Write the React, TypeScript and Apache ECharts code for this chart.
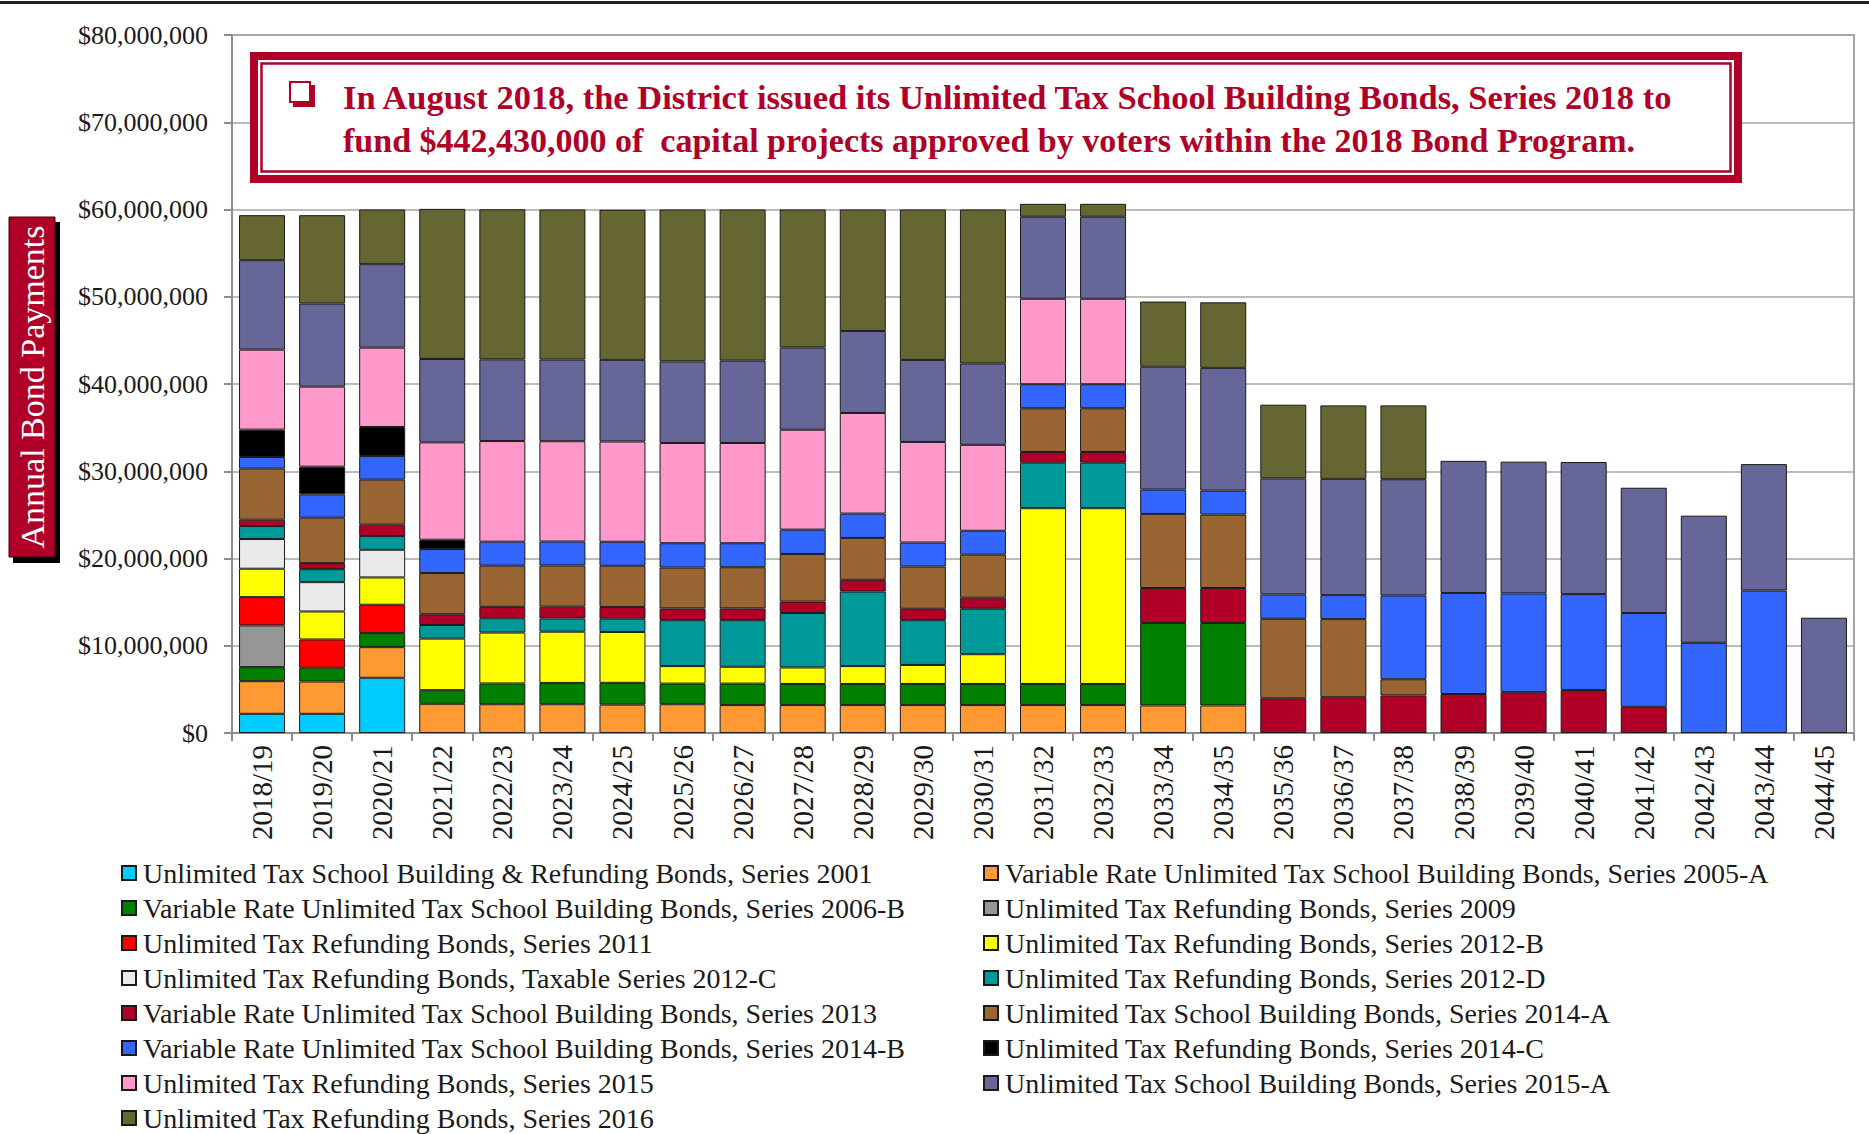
import React, { useEffect, useRef } from 'react';
import * as echarts from 'echarts';

const categories = [
  '2018/19', '2019/20', '2020/21', '2021/22', '2022/23', '2023/24', '2024/25', '2025/26', '2026/27',
  '2027/28', '2028/29', '2029/30', '2030/31', '2031/32', '2032/33', '2033/34', '2034/35', '2035/36',
  '2036/37', '2037/38', '2038/39', '2039/40', '2040/41', '2041/42', '2042/43', '2043/44', '2044/45',
];

const yTicks = [0, 10, 20, 30, 40, 50, 60, 70, 80]; // millions of dollars

const seriesNames = [
  'Unlimited Tax School Building & Refunding Bonds, Series 2001',
  'Variable Rate Unlimited Tax School Building Bonds, Series 2005-A',
  'Variable Rate Unlimited Tax School Building Bonds, Series 2006-B',
  'Unlimited Tax Refunding Bonds, Series 2009',
  'Unlimited Tax Refunding Bonds, Series 2011',
  'Unlimited Tax Refunding Bonds, Series 2012-B',
  'Unlimited Tax Refunding Bonds, Taxable Series 2012-C',
  'Unlimited Tax Refunding Bonds, Series 2012-D',
  'Variable Rate Unlimited Tax School Building Bonds, Series 2013',
  'Unlimited Tax School Building Bonds, Series 2014-A',
  'Variable Rate Unlimited Tax School Building Bonds, Series 2014-B',
  'Unlimited Tax Refunding Bonds, Series 2014-C',
  'Unlimited Tax Refunding Bonds, Series 2015',
  'Unlimited Tax School Building Bonds, Series 2015-A',
  'Unlimited Tax Refunding Bonds, Series 2016',
];

const seriesColors = [
  '#00CCFF', '#FF9933', '#008000', '#969696', '#FF0000', '#FFFF00', '#EAEAEA', '#009999',
  '#B00028', '#996633', '#3366FF', '#000000', '#FF99CC', '#666699', '#666633',
];

// values in millions of dollars, one per fiscal year
const s2001 = [2.2, 2.2, 6.33, 0, 0, 0, 0, 0, 0, 0, 0, 0, 0, 0, 0, 0, 0, 0, 0, 0, 0, 0, 0, 0, 0, 0, 0];
const s2005A = [3.74, 3.7, 3.51, 3.35, 3.3, 3.3, 3.25, 3.3, 3.2, 3.2, 3.2, 3.2, 3.2, 3.2, 3.2, 3.16, 3.16, 0, 0, 0, 0, 0, 0, 0, 0, 0, 0];
const s2006B = [1.61, 1.58, 1.61, 1.56, 2.38, 2.44, 2.5, 2.36, 2.46, 2.42, 2.42, 2.42, 2.42, 2.42, 2.42, 9.44, 9.44, 0, 0, 0, 0, 0, 0, 0, 0, 0, 0];
const s2009 = [4.78, 0, 0, 0, 0, 0, 0, 0, 0, 0, 0, 0, 0, 0, 0, 0, 0, 0, 0, 0, 0, 0, 0, 0, 0, 0, 0];
const s2011 = [3.24, 3.24, 3.25, 0, 0, 0, 0, 0, 0, 0, 0, 0, 0, 0, 0, 0, 0, 0, 0, 0, 0, 0, 0, 0, 0, 0, 0];
const s2012B = [3.26, 3.21, 3.13, 5.91, 5.83, 5.87, 5.83, 2.01, 1.93, 1.89, 2.05, 2.18, 3.41, 20.15, 20.15, 0, 0, 0, 0, 0, 0, 0, 0, 0, 0, 0, 0];
const s2012C = [3.4, 3.36, 3.17, 0, 0, 0, 0, 0, 0, 0, 0, 0, 0, 0, 0, 0, 0, 0, 0, 0, 0, 0, 0, 0, 0, 0, 0];
const s2012D = [1.49, 1.49, 1.57, 1.56, 1.64, 1.52, 1.52, 5.26, 5.34, 6.24, 8.54, 5.13, 5.21, 5.21, 5.21, 0, 0, 0, 0, 0, 0, 0, 0, 0, 0, 0, 0];
const s2013 = [0.73, 0.69, 1.31, 1.23, 1.31, 1.35, 1.35, 1.35, 1.35, 1.31, 1.35, 1.31, 1.27, 1.23, 1.23, 4.02, 4.02, 3.98, 4.1, 4.31, 4.47, 4.68, 4.92, 3.0, 0, 0, 0];
const s2014A = [5.85, 5.21, 5.16, 4.72, 4.72, 4.72, 4.72, 4.68, 4.72, 5.46, 4.8, 4.84, 4.93, 5.01, 5.01, 8.49, 8.41, 9.11, 8.95, 1.85, 0, 0, 0, 0, 0, 0, 0];
const s2014B = [1.33, 2.67, 2.7, 2.75, 2.75, 2.75, 2.75, 2.79, 2.75, 2.79, 2.79, 2.75, 2.74, 2.75, 2.75, 2.79, 2.75, 2.79, 2.75, 9.6, 11.57, 11.32, 11.0, 10.75, 10.34, 16.33, 0];
const s2014C = [3.14, 3.18, 3.33, 1.07, 0, 0, 0, 0, 0, 0, 0, 0, 0, 0, 0, 0, 0, 0, 0, 0, 0, 0, 0, 0, 0, 0, 0];
const s2015 = [9.17, 9.17, 9.1, 11.16, 11.53, 11.49, 11.49, 11.49, 11.49, 11.45, 11.53, 11.53, 9.85, 9.8, 9.8, 0, 0, 0, 0, 0, 0, 0, 0, 0, 0, 0, 0];
const s2015A = [10.25, 9.52, 9.56, 9.56, 9.36, 9.36, 9.36, 9.35, 9.44, 9.43, 9.4, 9.4, 9.32, 9.4, 9.4, 14.08, 14.07, 13.3, 13.33, 13.33, 15.15, 15.1, 15.14, 14.36, 14.57, 14.49, 13.21];
const s2016 = [5.16, 10.13, 6.27, 17.2, 17.2, 17.2, 17.2, 17.41, 17.32, 15.81, 13.92, 17.24, 17.65, 1.48, 1.48, 7.47, 7.51, 8.45, 8.42, 8.46, 0, 0, 0, 0, 0, 0, 0];

const seriesValues = [s2001, s2005A, s2006B, s2009, s2011, s2012B, s2012C, s2012D, s2013, s2014A, s2014B, s2014C, s2015, s2015A, s2016];

const leftLegend = seriesNames.filter((_, i) => i % 2 === 0);
const rightLegend = seriesNames.filter((_, i) => i % 2 === 1);

const noteLine1 = 'In August 2018, the District issued its Unlimited Tax School Building Bonds, Series 2018 to';
const noteLine2 = 'fund $442,430,000 of  capital projects approved by voters within the 2018 Bond Program.';
const yTitle = 'Annual Bond Payments';

const SERIF = '"Liberation Serif", "Times New Roman", serif';
const CRIMSON = '#B00028';

export default function App() {
  const ref = useRef<HTMLDivElement>(null);
  useEffect(() => {
    const chart = echarts.init(ref.current!, null, { renderer: 'svg' });
    const fmt = (v: number) => '$' + Math.round(v * 1e6).toLocaleString('en-US');
    const legendText = { fontSize: 28, fontFamily: SERIF, color: '#1a1a1a', padding: [0, 0, 0, 2] };
    chart.setOption({
      animation: false,
      backgroundColor: '#ffffff',
      grid: {
        left: 232, right: 15, top: 35, bottom: 401,
        show: true, borderColor: '#A6A6A6', borderWidth: 2, backgroundColor: 'transparent',
      },
      xAxis: {
        type: 'category',
        data: categories,
        boundaryGap: true,
        axisLine: { show: true, lineStyle: { color: '#8C8C8C', width: 2 } },
        axisTick: { show: true, alignWithLabel: false, length: 8, lineStyle: { color: '#8C8C8C', width: 2 } },
        axisLabel: { rotate: 90, fontSize: 29, margin: 12, color: '#1a1a1a', fontFamily: SERIF, interval: 0 },
      },
      yAxis: {
        type: 'value',
        min: yTicks[0],
        max: yTicks[yTicks.length - 1],
        interval: yTicks[1] - yTicks[0],
        axisLine: { show: true, lineStyle: { color: '#8C8C8C', width: 2 } },
        axisTick: { show: true, length: 8, lineStyle: { color: '#8C8C8C', width: 2 } },
        splitLine: { show: true, lineStyle: { color: '#A6A6A6', width: 1.5 } },
        axisLabel: { fontSize: 26, margin: 24, color: '#1a1a1a', fontFamily: SERIF, formatter: fmt },
      },
      legend: [
        {
          data: leftLegend, orient: 'vertical', left: 121, top: 859, width: 800, height: 400, padding: 0,
          itemWidth: 14, itemHeight: 14, itemGap: 7, icon: 'rect', selectedMode: false,
          textStyle: legendText,
        },
        {
          data: rightLegend, orient: 'vertical', left: 983, top: 859, width: 800, height: 400, padding: 0,
          itemWidth: 14, itemHeight: 14, itemGap: 7, icon: 'rect', selectedMode: false,
          textStyle: legendText,
        },
      ],
      series: seriesNames.map((name, i) => ({
        name,
        type: 'bar',
        stack: 'total',
        barWidth: 46,
        itemStyle: { color: seriesColors[i], borderColor: '#1a1a1a', borderWidth: 1 },
        data: seriesValues[i].map((v) => (v === 0 ? '-' : v)),
      })),
      graphic: [
        { type: 'rect', left: 0, top: 1, shape: { width: 1869, height: 3 }, style: { fill: '#222' } },
        // annotation box
        { type: 'rect', shape: { x: 254, y: 56, width: 1484, height: 123 }, style: { fill: '#fff', stroke: CRIMSON, lineWidth: 8 }, z: 100 },
        { type: 'rect', shape: { x: 261.5, y: 63.5, width: 1469, height: 108 }, style: { fill: 'none', stroke: CRIMSON, lineWidth: 2.5 }, z: 101 },
        { type: 'rect', shape: { x: 293, y: 85, width: 22, height: 22 }, style: { fill: CRIMSON }, z: 101 },
        { type: 'rect', shape: { x: 290, y: 82, width: 20, height: 20 }, style: { fill: '#fff', stroke: CRIMSON, lineWidth: 2 }, z: 102 },
        { type: 'text', x: 343, y: 97, style: { text: noteLine1, fill: CRIMSON, font: `bold 34.5px ${SERIF}`, textAlign: 'left', textVerticalAlign: 'middle' }, z: 102 },
        { type: 'text', x: 343, y: 140, style: { text: noteLine2, fill: CRIMSON, font: `bold 34px ${SERIF}`, textAlign: 'left', textVerticalAlign: 'middle' }, z: 102 },
        // y-axis title box
        { type: 'rect', shape: { x: 13, y: 222, width: 47, height: 341 }, style: { fill: '#000' }, z: 100 },
        { type: 'rect', shape: { x: 9, y: 217, width: 46, height: 340 }, style: { fill: CRIMSON, stroke: '#3a0010', lineWidth: 1 }, z: 101 },
        { type: 'text', x: 32, y: 387, rotation: Math.PI / 2, style: { text: yTitle, fill: '#fff', font: `34px ${SERIF}`, textAlign: 'center', textVerticalAlign: 'middle' }, z: 102 },
      ],
    });
    return () => chart.dispose();
  }, []);
  return <div ref={ref} style={{ position: 'fixed', left: 0, top: 0, width: 1869, height: 1134, background: '#fff' }} />;
}
